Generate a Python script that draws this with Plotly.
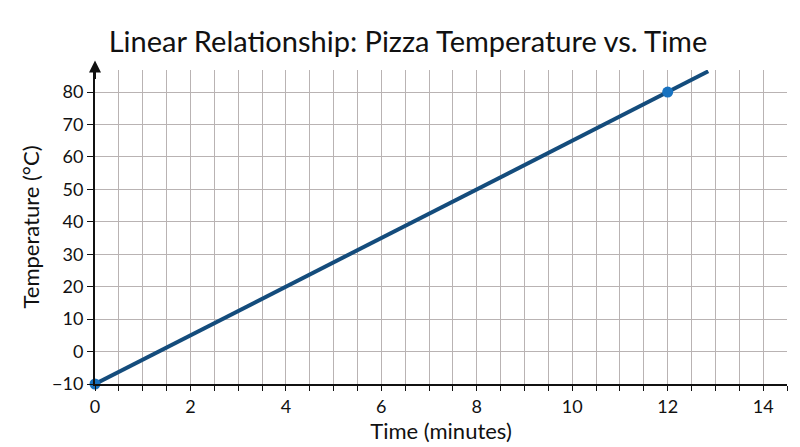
import plotly.graph_objects as go

line_time = [0, 12, 12.85]
line_temp = [-10, 80, 86.4]
point_time = [0, 12]
point_temp = [-10, 80]
x_ticks = [0, 2, 4, 6, 8, 10, 12, 14]
y_ticks = [-10, 0, 10, 20, 30, 40, 50, 60, 70, 80]

fig = go.Figure()
fig.add_trace(go.Scatter(x=line_time, y=line_temp, mode="lines",
                         line=dict(color="#144c7c", width=4), cliponaxis=False))
fig.add_trace(go.Scatter(x=point_time, y=point_temp, mode="markers",
                         marker=dict(color="#1872c0", size=11), cliponaxis=False))

grid = "#b9b3b3"
fig.update_layout(
    width=800, height=447, showlegend=False,
    paper_bgcolor="white", plot_bgcolor="white",
    margin=dict(l=87, r=21, t=62, b=71),
    font=dict(family="Lato, Open Sans, sans-serif", color="#111", size=18),
    title=dict(text="Linear Relationship: Pizza Temperature vs. Time", x=0.5, xanchor="center",
               y=0.925, yanchor="middle", font=dict(size=29, color="#111")),
    xaxis=dict(range=[0, 14.5], tickvals=x_ticks, showgrid=True, gridcolor=grid, gridwidth=1.3,
               automargin=False,
               minor=dict(dtick=0.5, showgrid=True, gridcolor=grid, gridwidth=1.3,
                          ticks="outside", ticklen=5, tickcolor="#111"),
               ticks="outside", ticklen=5, tickcolor="#111",
               showline=True, linecolor="#111", linewidth=2, zeroline=False,
               title=dict(text="Time (minutes)", standoff=2)),
    yaxis=dict(range=[-10, 86.8], tickvals=y_ticks, showgrid=True, gridcolor=grid, gridwidth=1.3,
               automargin=False,
               ticks="outside", ticklen=6, tickcolor="#111",
               showline=True, linecolor="#111", linewidth=2, zeroline=False,
               title=dict(text="Temperature (°C)", standoff=6)),
)
fig.add_annotation(x=0, y=1.03, xref="x", yref="paper", ax=0, ay=20, axref="pixel", ayref="pixel",
                   showarrow=True, arrowhead=2, arrowsize=1.2, arrowwidth=2, arrowcolor="#111", text="")
fig.write_html("out.html")
